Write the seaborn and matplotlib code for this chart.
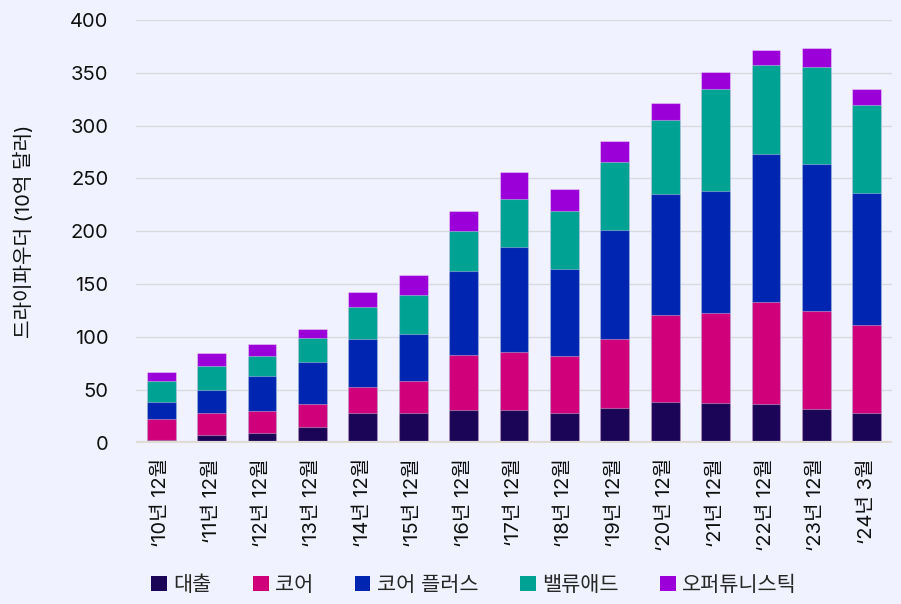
import numpy as np
import pandas as pd
import matplotlib
matplotlib.use('Agg')
import matplotlib.pyplot as plt
from matplotlib.patches import Patch
import seaborn as sns

# Dry powder by strategy (USD bn)
periods = ['‘10년 12월', '‘11년 12월', '‘12년 12월', '‘13년 12월', '‘14년 12월',
           '‘15년 12월', '‘16년 12월', '‘17년 12월', '‘18년 12월', '‘19년 12월',
           '‘20년 12월', '‘21년 12월', '‘22년 12월', '‘23년 12월', '‘24년 3월']
debt = [3, 7, 9, 15, 27.7, 28, 30.6, 30.6, 27.7, 32.4, 39, 37.8, 36.2, 32.2, 27.7]
core = [19.5, 21, 21, 21.5, 25.3, 30.3, 52, 55.2, 54.6, 66.2, 82, 84.8, 96.8, 92.6, 83.3]
core_plus = [16.5, 22, 33, 40.3, 45.6, 45, 79.4, 99.8, 82.5, 103.1, 114.5, 116, 140.6, 139.3, 124.8]
value_add = [19.5, 22.5, 19, 22.4, 29.7, 36.6, 38.5, 44.8, 54.2, 64, 70.2, 95.9, 83.8, 91.7, 83.8]
opportunistic = [8.5, 12.5, 11, 8.7, 14.7, 19, 19, 25.9, 21.2, 19.6, 15.5, 16, 14.2, 17.4, 15.2]

series_names = ['대출', '코어', '코어 플러스', '밸류애드', '오퍼튜니스틱']
series_colors = ['#1B0557', '#D0007A', '#0025B0', '#00A393', '#9B00D9']

df = pd.DataFrame({'period': periods, '대출': debt, '코어': core, '코어 플러스': core_plus,
                   '밸류애드': value_add, '오퍼튜니스틱': opportunistic})

bg = '#F0F2FF'
sns.set_style('white')
plt.rcParams['font.family'] = ['Inter', 'Noto Sans CJK KR', 'DejaVu Sans']

fig, ax = plt.subplots(figsize=(9.01, 6.04), dpi=100)
fig.patch.set_facecolor(bg)
ax.set_facecolor(bg)

# stacked bars: draw cumulative totals from the top layer down
cum = df[series_names].cumsum(axis=1)
for name, color in reversed(list(zip(series_names, series_colors))):
    sns.barplot(x=df['period'], y=cum[name], color=color, saturation=1,
                width=0.57, errorbar=None, edgecolor=(1, 1, 1, 0.35),
                linewidth=0.8, ax=ax, zorder=3)

ax.set_ylim(0, 400)
ax.set_xlim(-0.5, len(periods) - 0.5)
ax.set_yticks(range(0, 401, 50))
ax.yaxis.grid(True, color='#D9D9E0', linewidth=1)
ax.set_axisbelow(True)
for s in ['top', 'right', 'left', 'bottom']:
    ax.spines[s].set_visible(False)
ax.axhline(0, color='#E0DCD5', linewidth=3, zorder=4)

ax.tick_params(axis='y', labelsize=14.5, length=0, pad=20, colors='#111111')
ax.tick_params(axis='x', labelsize=14.5, length=0, pad=11, colors='#111111')
plt.setp(ax.get_xticklabels(), rotation=90)
ax.set_xlabel('')
ax.set_ylabel('드라이파우더 (10억 달러)', fontsize=14.5, color='#111111', labelpad=26)

handles = [Patch(facecolor=c, edgecolor='none') for c in series_colors]
fig.legend(handles, series_names, loc='center', bbox_to_anchor=(0.526, 0.032),
           ncol=5, frameon=False, fontsize=15, handlelength=0.75, handleheight=0.75,
           handletextpad=0.3, columnspacing=2.0)

fig.subplots_adjust(left=0.151, right=0.99, top=0.967, bottom=0.267)
fig.savefig('out.png', dpi=100, facecolor=bg)
